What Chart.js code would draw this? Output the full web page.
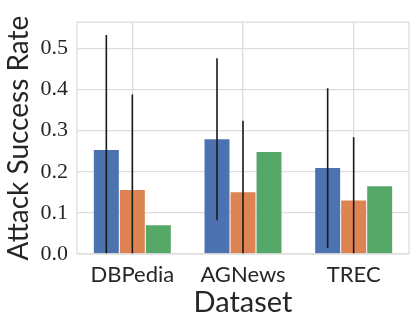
<!DOCTYPE html>
<html>
<head>
<meta charset="utf-8">
<script src="https://cdn.jsdelivr.net/npm/chart.js@4.4.1/dist/chart.umd.min.js"></script>
<style>
  html, body { margin: 0; padding: 0; background: #fff; }
  #wrap { width: 416px; height: 324px; position: relative; }
</style>
</head>
<body>
<div id="wrap"><canvas id="chartAttack"></canvas></div>
<script>
  /* ==========================
     DATA
  ========================== */
  const datasets = ["DBPedia", "AGNews", "TREC"];
  const blueVals = [0.253, 0.279, 0.209];
  const blueErr = [0.28, 0.197, 0.194];
  const orangeVals = [0.156, 0.150, 0.130];
  const orangeErr = [0.232, 0.174, 0.154];
  const greenVals = [0.070, 0.248, 0.165];
  const yTicks = [0.0, 0.1, 0.2, 0.3, 0.4, 0.5];
  const yMax = 0.564;

  const GRID = "#dddddd";
  const TEXT = "#262626";

  /* ==========================
     PLUGINS
  ========================== */
  const errorBars = {
    id: "errorBars",
    afterDatasetsDraw(chart) {
      const ctx = chart.ctx;
      const area = chart.chartArea;
      const y = chart.scales.y;
      ctx.save();
      ctx.beginPath();
      ctx.rect(area.left, area.top, area.right - area.left, area.bottom - area.top);
      ctx.clip();
      ctx.strokeStyle = "#1a1a1a";
      ctx.lineWidth = 1.6;
      chart.data.datasets.forEach((ds, di) => {
        if (!ds.errors) return;
        const meta = chart.getDatasetMeta(di);
        meta.data.forEach((bar, i) => {
          const v = ds.data[i];
          const e = ds.errors[i];
          ctx.beginPath();
          ctx.moveTo(bar.x, y.getPixelForValue(v - e));
          ctx.lineTo(bar.x, y.getPixelForValue(v + e));
          ctx.stroke();
        });
      });
      ctx.restore();
    },
  };

  const frame = {
    id: "frame",
    afterDraw(chart) {
      const a = chart.chartArea;
      const ctx = chart.ctx;
      ctx.save();
      ctx.strokeStyle = GRID;
      ctx.lineWidth = 1.3;
      ctx.strokeRect(a.left, a.top, a.right - a.left, a.bottom - a.top);
      ctx.restore();
    },
  };

  /* ==========================
     CHART
  ========================== */
  new Chart(document.getElementById("chartAttack").getContext("2d"), {
    type: "bar",
    data: {
      labels: datasets,
      datasets: [
        { data: blueVals, errors: blueErr, backgroundColor: "#4c72b0" },
        { data: orangeVals, errors: orangeErr, backgroundColor: "#dd8452" },
        { data: greenVals, backgroundColor: "#55a868" },
      ],
    },
    options: {
      responsive: true,
      maintainAspectRatio: false,
      animation: false,
      layout: { padding: { top: 6, right: 7, left: 0, bottom: 0 } },
      datasets: {
        bar: { categoryPercentage: 0.705, barPercentage: 0.96, borderWidth: 0 },
      },
      plugins: {
        legend: { display: false },
        tooltip: { enabled: false },
      },
      scales: {
        x: {
          grid: { color: GRID, lineWidth: 1.3, offset: false, drawTicks: false },
          border: { display: false },
          ticks: {
            color: TEXT,
            padding: 8,
            font: { family: "Lato", size: 22 },
          },
          title: {
            display: true,
            text: "Dataset",
            color: TEXT,
            padding: { top: 0, bottom: 4 },
            font: { family: "Lato", size: 29 },
          },
          afterFit(scale) { scale.height = 70; },
        },
        y: {
          min: 0,
          max: yMax,
          grid: { color: GRID, lineWidth: 1.3, drawTicks: false },
          border: { display: false },
          afterBuildTicks(scale) {
            scale.ticks = yTicks.map((v) => ({ value: v }));
          },
          ticks: {
            color: TEXT,
            padding: 9,
            font: { family: "Liberation Serif", size: 22 },
            callback: (v) => Number(v).toFixed(1),
          },
          title: {
            display: true,
            text: "Attack Success Rate",
            color: TEXT,
            padding: { top: 2, bottom: 0 },
            font: { family: "Lato", size: 28 },
          },
          afterFit(scale) { scale.width = 77; },
        },
      },
    },
    plugins: [errorBars, frame],
  });
</script>
</body>
</html>
